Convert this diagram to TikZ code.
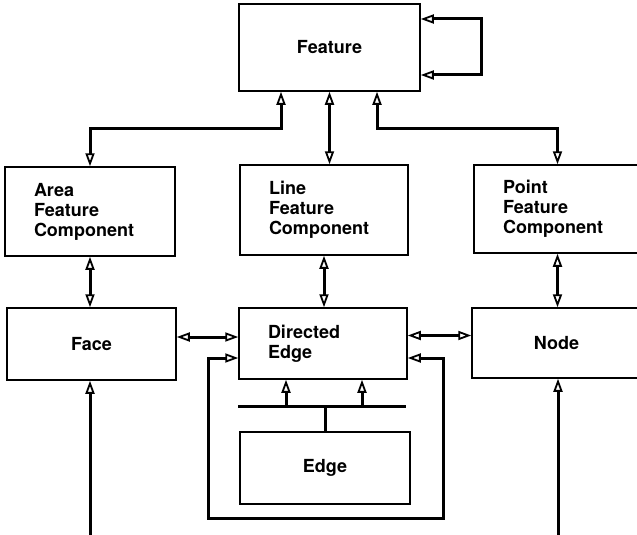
\documentclass[tikz,border=0pt]{standalone}
\usepackage{fontspec}
\setmainfont{TeX Gyre Heros}
\usetikzlibrary{arrows.meta}

\begin{document}
\begin{tikzpicture}[x=1pt,y=-1pt,
  box/.style={draw,line width=1.5pt,font=\bfseries\fontsize{18}{20}\selectfont,inner sep=0pt},
  lbox/.style={box,align=left,inner xsep=29pt,text width=#1},
  link/.style={line width=3pt,
    {Triangle[open,length=13pt,width=9pt,line width=1.8pt]}-{Triangle[open,length=13pt,width=9pt,line width=1.8pt]}},
  uplink/.style={line width=3pt,-{Triangle[open,length=13pt,width=9pt,line width=1.8pt]}}]

  \useasboundingbox (0,0) rectangle (637,535);

  \node[box,minimum width=181pt,minimum height=87pt] (feat) at (329.5,47.5) {Feature};
  \node[lbox=112pt,minimum height=89pt] (area) at (90,211.5) {Area\\Feature\\Component};
  \node[lbox=110pt,minimum height=90pt] (line) at (324,210) {Line\\Feature\\Component};
  \node[lbox=109pt,minimum height=88pt] (point) at (557.5,209) {Point\\Feature\\Component};
  \node[box,minimum width=169pt,minimum height=72pt] (face) at (91.5,344) {Face};
  \node[lbox=110pt,minimum height=71pt] (dedge) at (323,343.5) {Directed\\Edge};
  \node[box,minimum width=169pt,minimum height=70pt] (nodebox) at (556.5,343) {Node};
  \node[box,minimum width=170pt,minimum height=72pt] (edge) at (325,468) {Edge};

  \coordinate (selfloop) at (481,47);
  \coordinate (barL) at (238,406);
  \coordinate (barR) at (406,406);
  \coordinate (b1) at (286,406);
  \coordinate (b2) at (362,406);
  \coordinate (loopL) at (208,518);
  \coordinate (loopR) at (443,518);
  \coordinate (faceIn) at (90,540);
  \coordinate (nodeIn) at (558,540);

  % feature to components
  \draw[link] ([xshift=-48.5pt]feat.south) -- ++(0,37) -| (area.north);
  \draw[link] (feat.south) -- (feat.south |- line.north);
  \draw[link] ([xshift=47.5pt]feat.south) -- ++(0,37) -| (point.north);
  \draw[link] ([yshift=28.5pt]feat.east) -| (selfloop) |- ([yshift=-27.5pt]feat.east);

  % components to primitives
  \draw[link] (area.south) -- (area.south |- face.north);
  \draw[link] (line.south) -- (line.south |- dedge.north);
  \draw[link] (point.south) -- (point.south |- nodebox.north);
  \draw[link] ([yshift=7pt]face.east) -- ([yshift=7pt]face.east -| dedge.west);
  \draw[link] ([yshift=8pt]dedge.east) -- ([yshift=8pt]dedge.east -| nodebox.west);
  \draw[link] ([yshift=-14.5pt]dedge.west) -| (loopL) -- (loopR) |- ([yshift=-14.5pt]dedge.east);

  % edge
  \draw[line width=3pt] (barL) -- (barR);
  \draw[line width=3pt] (edge.north) -- (edge.north |- barL);
  \draw[uplink] (b1) -- (b1 |- dedge.south);
  \draw[uplink] (b2) -- (b2 |- dedge.south);
  \draw[uplink] (faceIn) -- (faceIn |- face.south);
  \draw[uplink] (nodeIn) -- (nodeIn |- nodebox.south);
\end{tikzpicture}
\end{document}
